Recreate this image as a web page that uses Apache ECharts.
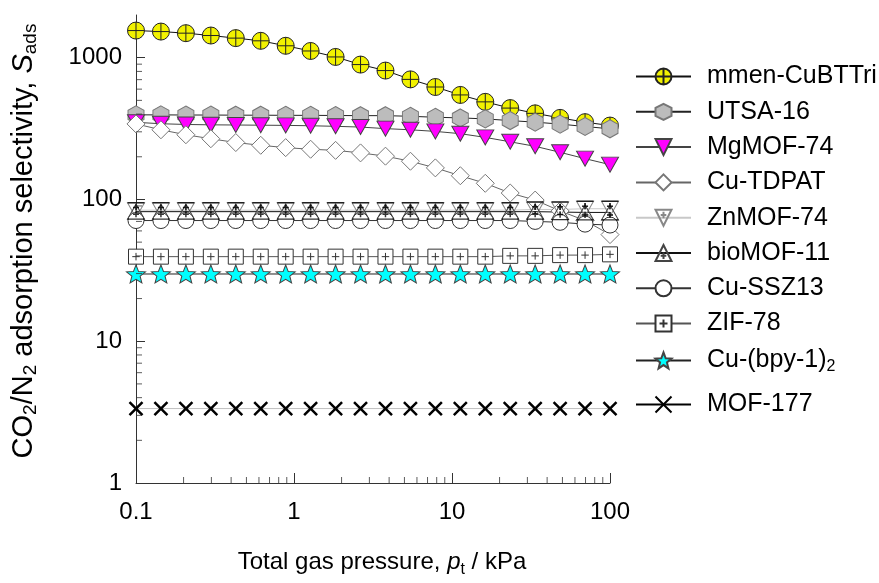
<!DOCTYPE html>
<html>
<head>
<meta charset="utf-8">
<script src="https://cdn.jsdelivr.net/npm/echarts@6/dist/echarts.min.js"></script>
<style>html,body{margin:0;padding:0;background:#fff}#c{width:879px;height:583px}</style>
</head>
<body>
<div id="c"></div>
<script>
// Total gas pressure, kPa
const pressure = [0.1, 0.1438, 0.2069, 0.2976, 0.4281, 0.6158, 0.8859, 1.274, 1.833, 2.637, 3.793, 5.456, 7.848, 11.29, 16.24, 23.36, 33.6, 48.33, 69.52, 100];
// CO2/N2 adsorption selectivity
const mmenCuBTTri = [1553, 1528, 1489, 1433, 1374, 1315, 1213, 1115, 1012, 894, 811, 703, 621, 546, 488, 441, 405, 376, 351, 332];
const utsa16 = [395, 395, 394, 394, 393, 393, 392, 392, 391, 390, 390, 386, 380, 376, 370, 360, 351, 340, 327, 315];
const mgMOF74 = [350, 342, 338, 336, 335, 334, 333, 331, 328, 324, 316, 310, 302, 291, 274, 255, 237, 215, 194, 176];
const cuTDPAT = [341, 310, 286, 268, 252, 241, 232, 226, 222, 213, 202, 186, 167, 147, 130, 111, 99, 83, 71, 56.5];
const znMOF74 = [84, 84, 84, 84, 84, 84, 84, 84, 84, 84, 84, 84, 84, 84, 84, 84, 85, 85, 86, 86];
const bioMOF11 = [82, 82, 82, 82, 82, 82, 82, 82, 82, 82, 82, 82, 82, 82, 82, 82, 82, 81.5, 81, 81];
const cuSSZ13 = [71, 71, 71, 71, 71, 71, 71, 71, 71, 71, 71, 71, 71, 71, 71, 71, 70, 69, 67, 66];
const zif78 = [39.5, 39.5, 39.5, 39.5, 39.5, 39.5, 39.5, 39.5, 39.5, 39.5, 39.5, 39.5, 39.5, 39.5, 39.5, 40, 40, 40.5, 40.5, 41];
const cuBpy = [29.8, 29.8, 29.8, 29.8, 29.8, 29.8, 29.8, 29.8, 29.8, 29.8, 29.8, 29.8, 29.8, 29.8, 29.8, 29.8, 29.8, 29.8, 29.8, 29.8];
const mof177 = [3.35, 3.35, 3.35, 3.35, 3.35, 3.35, 3.35, 3.35, 3.35, 3.35, 3.35, 3.35, 3.35, 3.35, 3.35, 3.35, 3.35, 3.35, 3.35, 3.35];

const seriesNames = ['mmen-CuBTTri', 'UTSA-16', 'MgMOF-74', 'Cu-TDPAT', 'ZnMOF-74', 'bioMOF-11', 'Cu-SSZ13', 'ZIF-78', 'Cu-(bpy-1)2', 'MOF-177'];
const xMinorTicks = [0.2, 0.3, 0.4, 0.5, 0.6, 0.7, 0.8, 0.9, 2, 3, 4, 5, 6, 7, 8, 9, 20, 30, 40, 50, 60, 70, 80, 90];
const yMinorTicks = [2, 3, 4, 5, 6, 7, 8, 9, 20, 30, 40, 50, 60, 70, 80, 90, 200, 300, 400, 500, 600, 700, 800, 900];

const FONT = '"Liberation Sans", Arial, sans-serif';
const pts = v => pressure.map((p, i) => [p, v[i]]);

const SYM = {
  circleCross: 'path://M10,0A10,10,0,1,1,-10,0A10,10,0,1,1,10,0ZM-10,0L10,0M0,-10L0,10',
  hexagon: 'path://M0,-10L8.66,-5L8.66,5L0,10L-8.66,5L-8.66,-5Z',
  downTri: 'path://M-10,-8.66L10,-8.66L0,8.66Z',
  downTriPlus: 'path://M-10,-8.66L10,-8.66L0,8.66ZM-3.5,-3L3.5,-3M0,-6.5L0,0.5',
  upTriPlus: 'path://M-10,8.66L10,8.66L0,-8.66ZM-3.5,3L3.5,3M0,-0.5L0,6.5',
  plusDown: 'path://M-10,-8.66L10,-8.66M-3.5,-3L3.5,-3M0,-6.5L0,0.5M0,8.66L0,8.66',
  plusUp: 'path://M-10,8.66L10,8.66M-3.5,3L3.5,3M0,-0.5L0,6.5M0,-8.66L0,-8.66',
  squarePlus: 'path://M-7,-7L7,-7L7,7L-7,7ZM-3.5,0L3.5,0M0,-3.5L0,3.5',
  star: 'path://M0,-10L2.6,-3.4L9.511,-3.09L4.1,1.3L5.878,8.09L0,4.3L-5.878,8.09L-4.1,1.3L-9.511,-3.09L-2.6,-3.4Z',
  cross: 'path://M-6,-6L6,6M-6,6L6,-6'
};

function mk(name, vals, symbol, size, fill, stroke, bw, lineColor, lineWidth) {
  return {
    name: name, type: 'line', data: pts(vals),
    symbol: symbol, symbolSize: size, showSymbol: true,
    itemStyle: {color: fill, borderColor: stroke, borderWidth: bw},
    lineStyle: {color: lineColor, width: lineWidth},
    emphasis: {disabled: true}, silent: true, z: 3
  };
}

function rich(fs, lh) {
  return {
    n: {fontSize: fs, lineHeight: lh, verticalAlign: 'middle', fontFamily: FONT, color: '#000'},
    i: {fontSize: fs, lineHeight: lh, verticalAlign: 'middle', fontStyle: 'italic', fontFamily: FONT, color: '#000'},
    s: {fontSize: Math.round(fs * 0.65), lineHeight: Math.round(fs * 0.65), verticalAlign: 'bottom', fontFamily: FONT, color: '#000'}
  };
}

const labelFmt = v => String(+Number(v).toPrecision(6));

const series = [
  mk(seriesNames[0], mmenCuBTTri, SYM.circleCross, 17, '#f2f200', '#222', 1, '#111', 1),
  mk(seriesNames[1], utsa16, SYM.hexagon, [16, 18], '#bcbcbc', '#777', 1, '#222', 1),
  mk(seriesNames[2], mgMOF74, SYM.downTri, [17, 15], '#ff00ff', '#444', 1, '#444', 1),
  mk(seriesNames[3], cuTDPAT, 'diamond', [18, 18], '#fff', '#777', 1, '#666', 1),
  mk(seriesNames[4], znMOF74, SYM.downTriPlus, [17, 15], 'rgba(255,255,255,0)', '#888', 1, '#c8c8c8', 1),
  mk(seriesNames[5], bioMOF11, SYM.upTriPlus, [17, 15], 'rgba(255,255,255,0)', '#444', 1, '#111', 1),
  mk(seriesNames[6], cuSSZ13, 'circle', 16, '#fff', '#333', 1, '#333', 1),
  mk(seriesNames[7], zif78, SYM.squarePlus, 15, '#fff', '#333', 1, '#555', 1),
  mk(seriesNames[8], cuBpy, SYM.star, [19, 18], '#00ffff', '#444', 1, '#222', 1),
  mk(seriesNames[9], mof177, SYM.cross, 13, '#000', '#000', 2.5, '#c0c0c0', 1),
  // black plus signs inside the ZnMOF-74 / bioMOF-11 triangles
  {
    type: 'scatter', silent: true, z: 4, data: pts(znMOF74),
    symbol: SYM.plusDown, symbolSize: [17, 15],
    itemStyle: {color: 'rgba(0,0,0,0)', borderColor: '#000', borderWidth: 1.6},
    emphasis: {disabled: true}
  },
  {
    type: 'scatter', silent: true, z: 4, data: pts(bioMOF11),
    symbol: SYM.plusUp, symbolSize: [17, 15],
    itemStyle: {color: 'rgba(0,0,0,0)', borderColor: '#000', borderWidth: 1.4},
    emphasis: {disabled: true}
  },
  {
    type: 'scatter', silent: true, clip: false, z: 5,
    data: xMinorTicks.map(v => [v, 1]),
    symbol: 'rect', symbolSize: [1, 6], symbolOffset: [0, -3],
    itemStyle: {color: '#333'}
  },
  {
    type: 'scatter', silent: true, clip: false, z: 5,
    data: yMinorTicks.map(v => [0.1, v]),
    symbol: 'rect', symbolSize: [6, 1], symbolOffset: [3, 0],
    itemStyle: {color: '#333'}
  }
];

const legendBase = {
  orient: 'vertical', left: 635, padding: 0,
  itemWidth: 55, itemHeight: 20, itemGap: 10.3,
  selectedMode: false,
  textStyle: {fontSize: 25, lineHeight: 25, fontFamily: FONT, color: '#000', padding: [0, 0, 0, 11], rich: rich(25, 28)},
  formatter: function (name) {
    if (name === 'Cu-(bpy-1)2') return '{n|Cu-(bpy-1)}{s|2}';
    return name;
  }
};

const option = {
  animation: false,
  backgroundColor: '#fff',
  textStyle: {fontFamily: FONT},
  grid: {left: 136, top: 15, right: 269, bottom: 95, containLabel: false},
  xAxis: {
    type: 'log', logBase: 10, min: 0.1, max: 100,
    axisLine: {lineStyle: {color: '#333', width: 1}},
    axisTick: {inside: true, length: 10, lineStyle: {color: '#333'}},
    axisLabel: {margin: 17, fontSize: 24, color: '#000', fontFamily: FONT, formatter: labelFmt},
    splitLine: {show: false},
    name: '{n|Total gas pressure, }{i|p}{s|t}{n| / kPa}',
    nameLocation: 'middle', nameGap: 63,
    nameTextStyle: {rich: rich(24, 32), padding: [0, 0, 0, 18]}
  },
  yAxis: {
    type: 'log', logBase: 10, min: 1, max: 2000,
    axisLine: {lineStyle: {color: '#333', width: 1}},
    axisTick: {inside: true, length: 9, lineStyle: {color: '#333'}},
    axisLabel: {margin: 14, fontSize: 24, color: '#000', fontFamily: FONT, showMaxLabel: false, formatter: labelFmt},
    splitLine: {show: false},
    name: '{n|CO}{s|2}{n|/N}{s|2}{n| adsorption selectivity, }{i|S}{s|ads}',
    nameLocation: 'middle', nameGap: 96,
    nameTextStyle: {rich: rich(29, 32), padding: [0, 0, 0, 16]}
  },
  legend: [
    Object.assign({}, legendBase, {top: 64, data: seriesNames.slice(0, 9)}),
    Object.assign({}, legendBase, {top: 392, data: [{name: 'MOF-177', lineStyle: {color: '#000'}}]})
  ],
  series: series
};

const chart = echarts.init(document.getElementById('c'), null, {renderer: 'canvas'});
chart.setOption(option);
</script>
</body>
</html>
